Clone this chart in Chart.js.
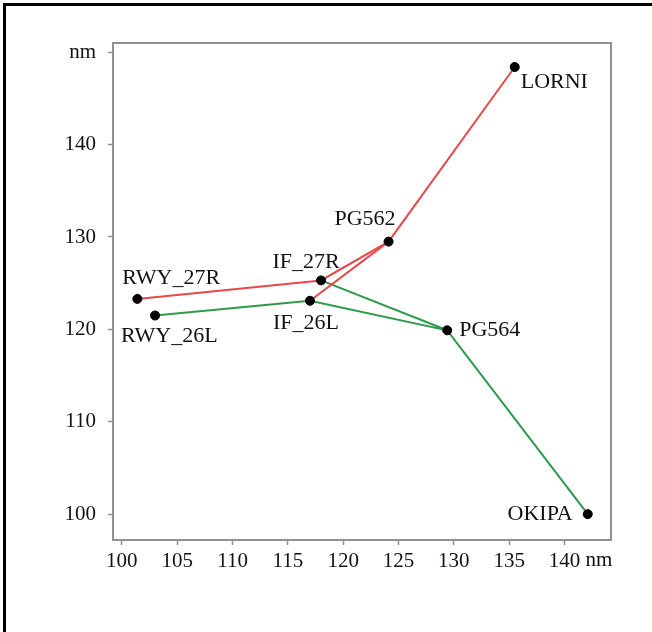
<!DOCTYPE html>
<html lang="en">
<head>
    <meta charset="UTF-8">
    <title>Approach routes</title>
    <script src="https://cdn.jsdelivr.net/npm/chart.js"></script>
    <style>
        html, body { margin: 0; padding: 0; background: #fff; }
        #wrap { width: 652px; height: 632px; position: relative; }
    </style>
</head>
<body>
    <div id="wrap"><canvas id="chart" width="652" height="632"></canvas></div>
    <script>
        // waypoints (nm)
        const waypointNames = ["LORNI", "PG562", "IF_27R", "IF_26L", "RWY_27R", "RWY_26L", "PG564", "OKIPA"];
        const waypointX = [135.5, 124.1, 118.0, 117.0, 101.4, 103.0, 129.4, 142.1];
        const waypointY = [148.4, 129.5, 125.3, 123.1, 123.3, 121.5, 119.9, 100.0];

        // routes, as lists of waypoint names
        const route27R = ["RWY_27R", "IF_27R", "PG562", "LORNI"];
        const link26L = ["IF_26L", "PG562"];
        const route26L = ["RWY_26L", "IF_26L", "PG564", "OKIPA"];
        const link27R = ["IF_27R", "PG564"];

        const xTicks = [100, 105, 110, 115, 120, 125, 130, 135, 140];
        const yTicks = [100, 110, 120, 130, 140, 150];

        const pt = (name) => {
            const i = waypointNames.indexOf(name);
            return { x: waypointX[i], y: waypointY[i] };
        };

        const RED = "#e8484a";
        const GREEN = "#2f9a4c";
        const FAMILY = "'Liberation Serif', 'DejaVu Serif', serif";
        const TICK_FONT = { family: FAMILY, size: 21 };
        const LABEL_SIZE = 22;

        // label placement relative to the point (px)
        const labelPos = {
            LORNI:   { dx: 6,   dy: 15,  align: "left" },
            PG562:   { dx: 7,   dy: -22, align: "right" },
            IF_27R:  { dx: -15, dy: -18, align: "center" },
            IF_26L:  { dx: -4,  dy: 22,  align: "center" },
            RWY_27R: { dx: -15, dy: -21, align: "left" },
            RWY_26L: { dx: -34, dy: 21,  align: "left" },
            PG564:   { dx: 12,  dy: 0,   align: "left" },
            OKIPA:   { dx: -15, dy: 0,   align: "right" }
        };

        const frame = {
            id: "frame",
            beforeDraw(chart) {
                const c = chart.ctx;
                c.save();
                c.fillStyle = "#fff";
                c.fillRect(0, 0, chart.width, chart.height);
                c.fillStyle = "#000";
                c.fillRect(3, 3, chart.width - 3, 3);
                c.fillRect(3, 3, 3, chart.height - 3);
                c.restore();
            },
            afterDraw(chart) {
                const c = chart.ctx;
                const a = chart.chartArea;
                c.save();
                c.strokeStyle = "#909090";
                c.lineWidth = 2;
                c.strokeRect(a.left, a.top, a.right - a.left, a.bottom - a.top);

                // waypoint names
                c.font = `${LABEL_SIZE}px ${FAMILY}`;
                c.fillStyle = "#111";
                c.textBaseline = "middle";
                const xs = chart.scales.x, ys = chart.scales.y;
                waypointNames.forEach((n, i) => {
                    const p = labelPos[n];
                    c.textAlign = p.align;
                    c.fillText(n, xs.getPixelForValue(waypointX[i]) + p.dx, ys.getPixelForValue(waypointY[i]) + p.dy);
                });

                // unit after the last x tick label
                c.font = `${TICK_FONT.size}px ${FAMILY}`;
                c.textAlign = "left";
                c.fillText("nm", xs.getPixelForValue(140) + 21, 560);
                c.restore();
            }
        };

        const lineSet = (names, color) => ({
            data: names.map(pt),
            showLine: true,
            borderColor: color,
            borderWidth: 2,
            pointRadius: 0,
            pointHoverRadius: 0
        });

        new Chart(document.getElementById("chart"), {
            type: "scatter",
            data: {
                datasets: [
                    {
                        data: waypointNames.map(pt),
                        pointRadius: 4.5,
                        pointBackgroundColor: "#000",
                        pointBorderColor: "#000",
                        showLine: false
                    },
                    lineSet(route27R, RED),
                    lineSet(link26L, RED),
                    lineSet(route26L, GREEN),
                    lineSet(link27R, GREEN)
                ]
            },
            options: {
                responsive: false,
                animation: false,
                layout: { padding: { left: 0, top: 43, right: 41, bottom: 0 } },
                plugins: { legend: { display: false }, tooltip: { enabled: false } },
                scales: {
                    x: {
                        type: "linear",
                        min: 99.2,
                        max: 144.2,
                        afterBuildTicks: (s) => { s.ticks = xTicks.map(v => ({ value: v })); },
                        afterFit: (s) => { s.height = 92; },
                        grid: { drawOnChartArea: false, drawTicks: true, tickLength: 5, color: "#909090", tickWidth: 1.5 },
                        border: { color: "#909090", width: 2 },
                        ticks: { color: "#111", font: TICK_FONT, padding: 4, maxRotation: 0 }
                    },
                    y: {
                        type: "linear",
                        min: 97.2,
                        max: 151,
                        afterBuildTicks: (s) => { s.ticks = yTicks.map(v => ({ value: v })); },
                        afterFit: (s) => { s.width = 113; },
                        grid: { drawOnChartArea: false, drawTicks: true, tickLength: 5, color: "#909090", tickWidth: 1.5 },
                        border: { color: "#909090", width: 2 },
                        ticks: {
                            color: "#111",
                            font: TICK_FONT,
                            padding: 12,
                            callback: (v) => v === 150 ? "nm" : v
                        }
                    }
                }
            },
            plugins: [frame]
        });
    </script>
</body>
</html>
